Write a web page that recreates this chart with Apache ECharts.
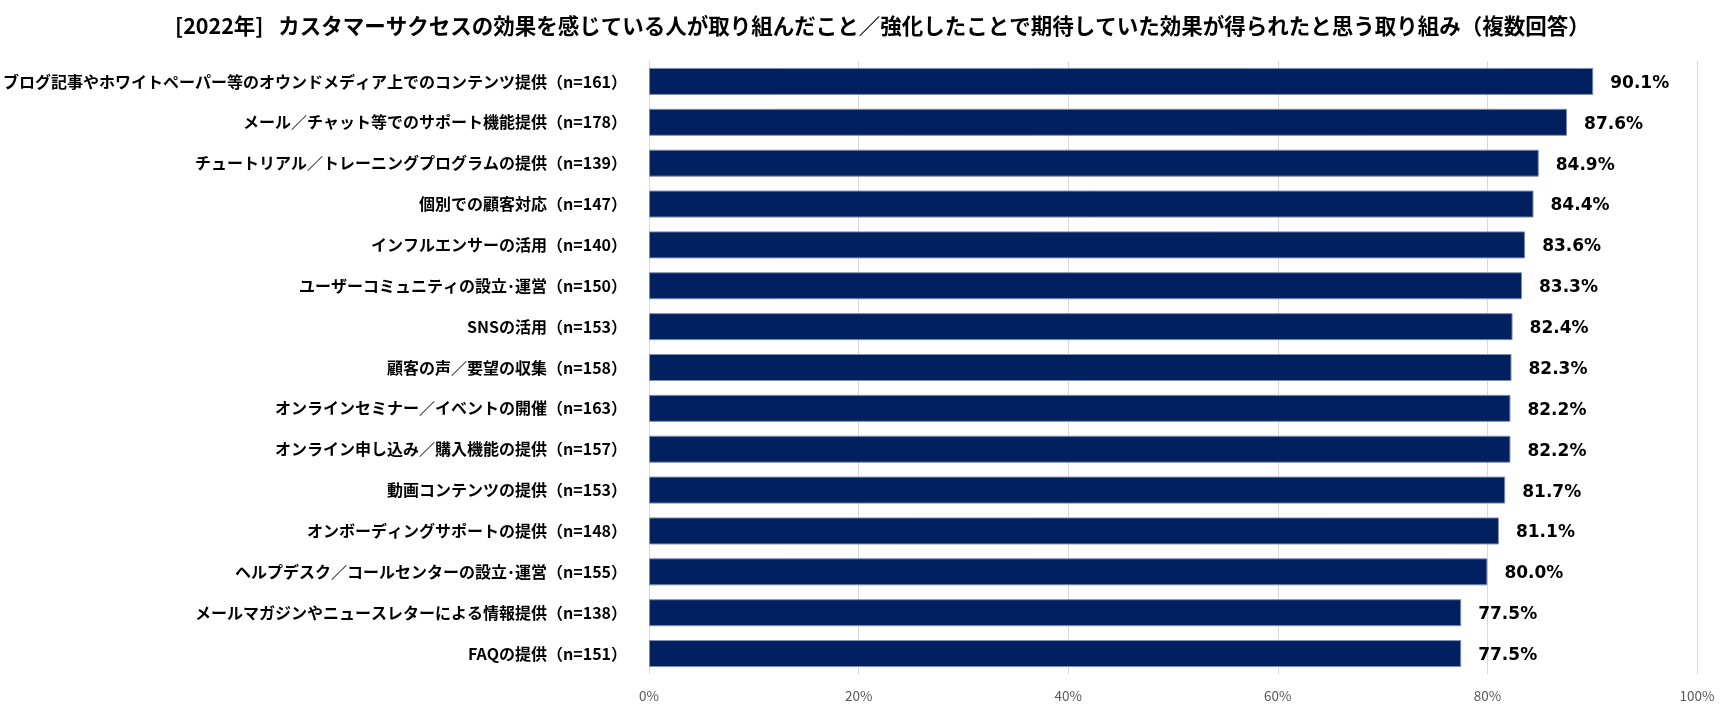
<!DOCTYPE html>
<html><head><meta charset="utf-8">
<script src="https://cdn.jsdelivr.net/npm/echarts@6/dist/echarts.min.js"></script>
<style>html,body{margin:0;padding:0;background:#fff}#c{width:1723px;height:713px}</style>
</head><body><div id="c"></div>
<script>
const titleText = '[2022年]   カスタマーサクセスの効果を感じている人が取り組んだこと／強化したことで期待していた効果が得られたと思う取り組み（複数回答）';
const categories = [
  'ブログ記事やホワイトペーパー等のオウンドメディア上でのコンテンツ提供（n=161）',
  'メール／チャット等でのサポート機能提供（n=178）',
  'チュートリアル／トレーニングプログラムの提供（n=139）',
  '個別での顧客対応（n=147）',
  'インフルエンサーの活用（n=140）',
  'ユーザーコミュニティの設立･運営（n=150）',
  'SNSの活用（n=153）',
  '顧客の声／要望の収集（n=158）',
  'オンラインセミナー／イベントの開催（n=163）',
  'オンライン申し込み／購入機能の提供（n=157）',
  '動画コンテンツの提供（n=153）',
  'オンボーディングサポートの提供（n=148）',
  'ヘルプデスク／コールセンターの設立･運営（n=155）',
  'メールマガジンやニュースレターによる情報提供（n=138）',
  'FAQの提供（n=151）'
];
const values = [90.1, 87.6, 84.9, 84.4, 83.6, 83.3, 82.4, 82.3, 82.2, 82.2, 81.7, 81.1, 80.0, 77.5, 77.5];
const xTicks = [0, 20, 40, 60, 80, 100];

const chart = echarts.init(document.getElementById('c'), null, {renderer: 'canvas'});
chart.setOption({
  animation: false,
  backgroundColor: '#ffffff',
  title: {
    text: titleText,
    left: 170,
    top: 10,
    textStyle: {fontFamily: 'Noto Sans CJK JP', fontWeight: 'bold', fontSize: 21.5, color: '#000'}
  },
  grid: {left: 648, right: 26, top: 61, height: 613, containLabel: false},
  xAxis: {
    type: 'value', min: xTicks[0], max: xTicks[xTicks.length - 1], interval: 20,
    axisLine: {show: false}, axisTick: {show: false},
    splitLine: {show: true, lineStyle: {color: '#d9d9d9', width: 1}},
    axisLabel: {formatter: v => v + '%', color: '#595959', fontSize: 13.5, fontFamily: 'Noto Sans CJK JP', margin: 15}
  },
  yAxis: {
    type: 'category', data: categories, inverse: true,
    axisLine: {show: true, lineStyle: {color: '#d9d9d9', width: 1}},
    axisTick: {show: false},
    axisLabel: {color: '#000', fontSize: 16, fontWeight: 'bold', fontFamily: 'Noto Sans CJK JP', margin: 22}
  },
  series: [{
    type: 'bar', data: values, barWidth: 27,
    itemStyle: {color: '#002060', borderColor: '#7f8fb0', borderWidth: 1},
    label: {
      show: true, position: 'right', distance: 17, offset: [0, 2],
      formatter: p => p.value.toFixed(1) + '%',
      color: '#000', fontSize: 17, fontWeight: 'bold', fontFamily: 'DejaVu Sans'
    }
  }]
});
</script></body></html>
